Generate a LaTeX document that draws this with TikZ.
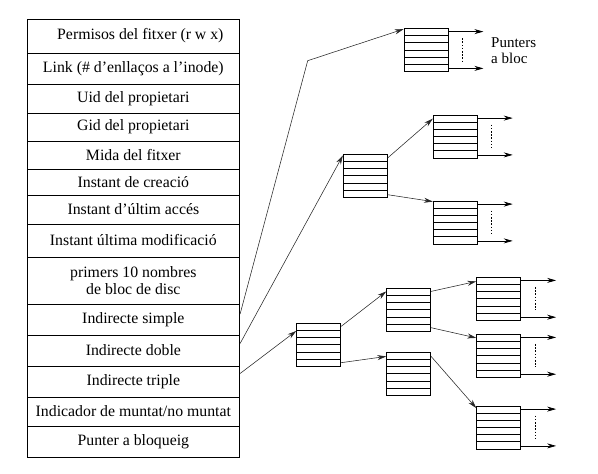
\documentclass[tikz,border=0pt]{standalone}
\usepackage{fontspec}
\setmainfont{Liberation Serif}
\usetikzlibrary{arrows.meta,calc}
\begin{document}
\begin{tikzpicture}[x=1pt,y=-1pt,
  every node/.style={font=\fontsize{15.8}{17}\selectfont},
  row/.style={draw=black,line width=0.8pt,minimum width=212.7pt,inner sep=0pt,align=center},
  blk/.style={draw=black,line width=0.8pt,minimum width=44pt,minimum height=43pt,inner sep=0pt,
    path picture={
      \foreach \i in {1,...,5}{
        \draw[line width=0.8pt] ($(path picture bounding box.north west)!\i/6!(path picture bounding box.south west)$)
          -- ($(path picture bounding box.north east)!\i/6!(path picture bounding box.south east)$);
      }}},
  conn/.style={draw=black!85,line width=0.55pt,-{Stealth[length=9pt,width=5pt,inset=3pt]}},
  outarr/.style={draw=black,line width=0.7pt,-{Stealth[length=9pt,width=5pt,inset=3pt]}},
  dots/.style={draw=black,line width=0.7pt,dash pattern=on 1.6pt off 1.6pt}
]
\useasboundingbox (0,0) rectangle (598,474);

% inode table
\node[row,minimum height=34pt] (perm) at (133.35,36) {\hspace*{14pt}Permisos del fitxer (r w x)};
\node[row,minimum height=31pt] (link) at (133.35,68.5) {Link (\# d’enllaços a l’inode)};
\node[row,minimum height=29pt] (uid) at (133.35,98.5) {Uid del propietari};
\node[row,minimum height=28pt] (gid) at (133.35,127) {Gid del propietari};
\node[row,minimum height=28pt] (mida) at (133.35,155) {Mida del fitxer};
\node[row,minimum height=26pt] (crea) at (133.35,182) {Instant de creació};
\node[row,minimum height=29pt] (acces) at (133.35,209.5) {Instant d’últim accés};
\node[row,minimum height=33pt] (modif) at (133.35,240.5) {Instant última modificació};
\node[row,minimum height=47pt] (prim) at (133.35,280.5) {primers 10 nombres\\de bloc de disc};
\node[row,minimum height=31pt] (simple) at (133.35,319.5) {Indirecte simple};
\node[row,minimum height=31pt] (doble) at (133.35,350.5) {Indirecte doble};
\node[row,minimum height=31pt] (triple) at (133.35,381.5) {Indirecte triple};
\node[row,minimum height=29pt] (munt) at (133.35,411.5) {Indicador de muntat/no muntat};
\node[row,minimum height=31pt] (bloq) at (133.35,441.5) {Punter a bloqueig};

% blocks
\node[blk] (S1) at (426,50) {};
\node[blk] (D0) at (365.3,175.8) {};
\node[blk] (D1a) at (455.3,136.5) {};
\node[blk] (D1b) at (455.3,222.5) {};
\node[blk] (T0) at (318.7,344.8) {};
\node[blk] (T1a) at (408.7,309.8) {};
\node[blk] (T1b) at (408.7,373.8) {};
\node[blk] (T2a) at (498.7,298.8) {};
\node[blk] (T2b) at (498.7,355.8) {};
\node[blk] (T2c) at (498.7,427.5) {};

\node[anchor=west,align=left,inner sep=0pt,font=\fontsize{15}{15.5}\selectfont] (lbl) at (491,50.5) {Punters\\a bloc};

% outgoing pointers of leaf blocks
\foreach \b in {S1,D1a,D1b,T2a,T2b,T2c}{
  \coordinate (\b-o1) at ([xshift=35pt,yshift=-3.5pt]\b.north east);
  \coordinate (\b-o2) at ([xshift=35pt,yshift=3.5pt]\b.south east);
  \draw[outarr] ([yshift=-3.5pt]\b.north east) -- (\b-o1);
  \draw[outarr] ([yshift=3.5pt]\b.south east) -- (\b-o2);
  \coordinate (\b-d1) at ([xshift=14pt,yshift=-10pt]\b.north east);
  \coordinate (\b-d2) at ([xshift=14pt,yshift=11pt]\b.south east);
  \draw[dots] (\b-d1) -- (\b-d2);
}

% connectors
\coordinate (bend) at (307.7,60.7);
\draw[conn] ([yshift=5.5pt]simple.east) -- (bend) -- ([yshift=-1pt]S1.north west);
\draw[conn] ([yshift=7pt]doble.east) -- ([yshift=-1.5pt]D0.north west);
\draw[conn] ([yshift=8pt]triple.east) -- ([yshift=-8pt]T0.north west);

\draw[conn] ([yshift=-4pt]D0.north east) -- ([yshift=-4pt]D1a.north west);
\draw[conn] ([yshift=3pt]D0.south east) -- ([yshift=-1pt]D1b.north west);

\draw[conn] ([yshift=-3.5pt]T0.north east) -- ([yshift=-3.5pt]T1a.north west);
\draw[conn] ([yshift=4pt]T0.south east) -- ([yshift=-4.5pt]T1b.north west);

\draw[conn] ([yshift=-3.5pt]T1a.north east) -- ([yshift=-4.5pt]T2a.north west);
\draw[conn] ([yshift=4pt]T1a.south east) -- ([yshift=-4pt]T2b.north west);
\draw[conn] ([yshift=-4.5pt]T1b.north east) -- ([yshift=-2.5pt]T2c.north west);
\end{tikzpicture}
\end{document}
